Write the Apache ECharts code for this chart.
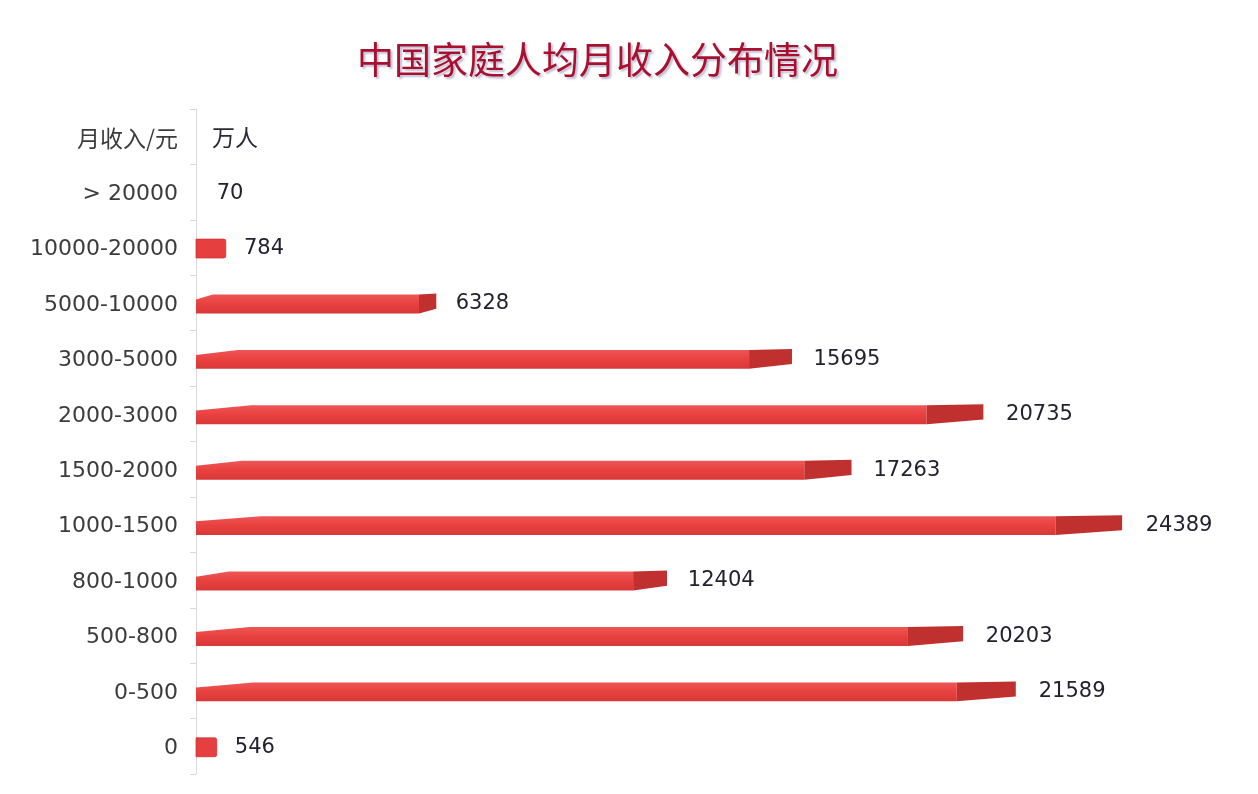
<!DOCTYPE html>
<html><head><meta charset="utf-8">
<script src="https://cdn.jsdelivr.net/npm/echarts@6/dist/echarts.min.js"></script>
<style>html,body{margin:0;padding:0;background:#fff;}#c{width:1258px;height:794px;}</style>
</head><body><div id="c"></div>
<script>
var titleText = '中国家庭人均月收入分布情况';
var headerCategory = '月收入/元';
var unitLabel = '万人';
var categories = ['0','0-500','500-800','800-1000','1000-1500','1500-2000','2000-3000','3000-5000','5000-10000','10000-20000','> 20000'];
var values = [546,21589,20203,12404,24389,17263,20735,15695,6328,784,70];

var FONT = '"DejaVu Sans","Noto Sans CJK SC",sans-serif';
var CJK = '"Noto Sans CJK SC",sans-serif';
var yCats = categories.concat([headerCategory]);
var data = values.map(function(v,i){ return [v, i, 0]; });
data.push([0, yCats.length-1, 1]);

function renderItem(params, api){
  var v = api.value(0), ci = api.value(1), isHeader = api.value(2) === 1;
  var p0 = api.coord([0, ci]);
  var yc = p0[1] + 1;
  if (isHeader) {
    return {type:'text', style:{x:p0[0]+16, y:p0[1]+1, text:unitLabel, fill:'#2a2a35',
      fontSize:23, fontFamily:CJK, verticalAlign:'middle', align:'left'}};
  }
  var p1 = api.coord([v, ci]);
  var band = api.size([0,1])[1];
  var h = band*0.34;
  var yt = yc - h/2, yb = yc + h/2;
  var x0 = p0[0], x1 = p1[0], L = x1 - x0;
  var children = [];
  if (L > 60) {
    var xs = x1 - 0.072*L;
    children.push({type:'polygon', shape:{points:[[x0,yb],[x0,yt+h*0.27],[x0+0.07*L,yt],[xs,yt],[xs,yb]]},
      style:{fill:new echarts.graphic.LinearGradient(0,0,0,1,[{offset:0,color:'#ee5656'},{offset:0.5,color:'#e8413f'},{offset:1,color:'#d83838'}])}});
    children.push({type:'polygon', shape:{points:[[xs,yt],[x1,yt-1],[x1,yb-h*0.25],[xs,yb]]},
      style:{fill:'#c0302f'}});
  } else if (L > 5) {
    children.push({type:'rect', shape:{x:x0, y:yt, width:L, height:h, r:[0,2,2,0]},
      style:{fill:'#e5403f', stroke:'#cf3434', lineWidth:0.8}});
  }
  children.push({type:'text', style:{x:x1+18+0.006*L, y:yc, text:String(v), fill:'#22222f',
      fontSize:21, fontFamily:FONT, verticalAlign:'middle', align:'left'}});
  return {type:'group', children:children};
}

var chart = echarts.init(document.getElementById('c'));
chart.setOption({
  backgroundColor:'#ffffff',
  animation:false,
  title:{text:titleText, left:352, top:36,
    textStyle:{color:'#a8102e', fontSize:37, fontWeight:'normal', fontFamily:CJK,
      textShadowColor:'rgba(90,90,150,0.4)', textShadowBlur:2, textShadowOffsetX:2, textShadowOffsetY:2}},
  grid:{left:196, right:28, top:109, bottom:20, containLabel:false},
  xAxis:{type:'value', min:0, max:27230, show:false},
  yAxis:{type:'category', data:yCats,
    axisLine:{show:true, lineStyle:{color:'#d9d9d9', width:1}},
    axisTick:{show:true, length:6, lineStyle:{color:'#d9d9d9'}},
    axisLabel:{color:'#3c3c3c', fontSize:22, fontFamily:FONT, margin:18, padding:[4,0,0,0],
      formatter:function(s){ return s === headerCategory ? '{h|' + s + '}' : s; },
      rich:{h:{fontSize:23, fontFamily:CJK, color:'#3c3c3c'}}},
    splitLine:{show:false}},
  series:[{type:'custom', renderItem:renderItem, data:data, encode:{x:0,y:1}, clip:false}]
});
</script></body></html>
